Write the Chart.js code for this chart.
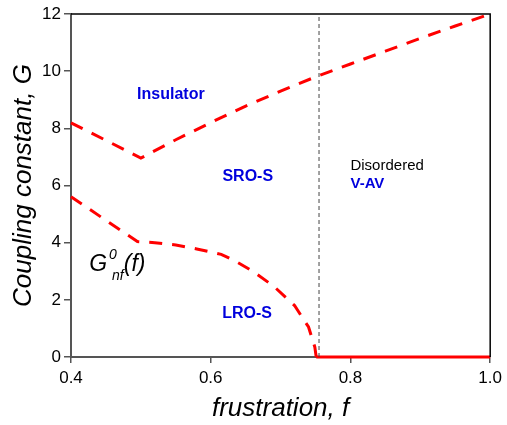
<!DOCTYPE html>
<html>
<head>
<meta charset="utf-8">
<script src="https://cdn.jsdelivr.net/npm/chart.js@4"></script>
<style>
  html, body { margin: 0; padding: 0; background: #fff; }
</style>
</head>
<body>
<canvas id="phaseChart" width="507" height="425"></canvas>
<script>
// upper boundary (insulator / superconductor)
const upperF = [0.4, 0.45, 0.5, 0.55, 0.6, 0.65, 0.7, 0.75, 0.8, 0.85, 0.9, 0.95, 1.0];
const upperG = [8.19, 7.58, 6.96, 7.6, 8.2, 8.78, 9.3, 9.8, 10.25, 10.7, 11.15, 11.58, 12.0];

// lower boundary G0_nf(f)
const lowerF = [0.4, 0.45, 0.495, 0.52, 0.55, 0.58, 0.615, 0.635, 0.66, 0.69, 0.72, 0.74, 0.749, 0.751];
const lowerG = [5.61, 4.78, 4.04, 4.0, 3.92, 3.78, 3.59, 3.36, 3.0, 2.48, 1.8, 1.05, 0.35, 0];

// solid segment on G = 0
const zeroF = [0.751, 1.0];
const zeroG = [0, 0];

// vertical dashed boundary
const boundaryF = [0.755, 0.755];
const boundaryG = [0, 12];

const xTicks = [0.4, 0.6, 0.8, 1.0];
const yTicks = [0, 2, 4, 6, 8, 10, 12];

// region labels: [text, f, G, color, bold, size]
const regionLabels = [
    ["Insulator", 0.543, 9.18, "#0000dd", true, 16, "center"],
    ["SRO-S", 0.653, 6.3, "#0000dd", true, 16, "center"],
    ["Disordered", 0.8, 6.7, "#000000", false, 15, "left"],
    ["V-AV", 0.8, 6.05, "#0000dd", true, 15, "left"],
    ["LRO-S", 0.652, 1.53, "#0000dd", true, 16, "center"]
];

const toPoints = (xs, ys) => xs.map((x, i) => ({ x, y: ys[i] }));

const textPlugin = {
    id: "regionText",
    afterDatasetsDraw(chart) {
        const { ctx, scales: { x, y }, chartArea } = chart;
        ctx.save();
        regionLabels.forEach(([text, f, g, color, bold, size, align]) => {
            ctx.font = `${bold ? "bold " : ""}${size}px "Liberation Sans", Arial, sans-serif`;
            ctx.fillStyle = color;
            ctx.textAlign = align;
            ctx.textBaseline = "middle";
            ctx.fillText(text, x.getPixelForValue(f), y.getPixelForValue(g));
        });

        // G^0_nf(f) label
        const gx = x.getPixelForValue(0.426);
        const gy = y.getPixelForValue(3.0);
        ctx.fillStyle = "#000";
        ctx.textAlign = "left";
        ctx.textBaseline = "alphabetic";
        ctx.font = 'italic 23px "Liberation Sans", Arial, sans-serif';
        ctx.fillText("G", gx, gy);
        const gw = ctx.measureText("G").width;
        ctx.font = 'italic 14px "Liberation Sans", Arial, sans-serif';
        ctx.fillText("0", gx + gw + 2, gy - 12);
        ctx.fillText("nf", gx + gw + 5, gy + 9);
        const nw = ctx.measureText("nf").width;
        ctx.font = 'italic 23px "Liberation Sans", Arial, sans-serif';
        ctx.fillText("(f)", gx + gw + 5 + nw, gy);

        // top and right frame
        ctx.strokeStyle = "#000";
        ctx.lineWidth = 1.5;
        ctx.beginPath();
        ctx.moveTo(chartArea.left, chartArea.top);
        ctx.lineTo(chartArea.right, chartArea.top);
        ctx.lineTo(chartArea.right, chartArea.bottom);
        ctx.stroke();
        ctx.restore();
    }
};

new Chart(document.getElementById("phaseChart"), {
    type: "scatter",
    data: {
        datasets: [
            {
                data: toPoints(boundaryF, boundaryG),
                showLine: true,
                borderColor: "#444",
                borderWidth: 1,
                borderDash: [4, 3],
                pointRadius: 0
            },
            {
                data: toPoints(upperF, upperG),
                showLine: true,
                borderColor: "#ff0000",
                borderWidth: 3,
                borderDash: [13, 10],
                pointRadius: 0,
                clip: false
            },
            {
                data: toPoints(lowerF, lowerG),
                showLine: true,
                borderColor: "#ff0000",
                borderWidth: 3,
                borderDash: [13, 10],
                pointRadius: 0,
                clip: false
            },
            {
                data: toPoints(zeroF, zeroG),
                showLine: true,
                borderColor: "#ff0000",
                borderWidth: 3,
                pointRadius: 0,
                clip: false
            }
        ]
    },
    options: {
        responsive: false,
        animation: false,
        layout: { padding: { top: 14, right: 11, left: 0, bottom: 0 } },
        plugins: { legend: { display: false }, tooltip: { enabled: false } },
        scales: {
            x: {
                type: "linear",
                min: 0.4,
                max: 1.0,
                afterFit: (axis) => { axis.height = 68; },
                afterBuildTicks: (axis) => { axis.ticks = xTicks.map(v => ({ value: v })); },
                ticks: {
                    color: "#000",
                    padding: 5,
                    font: { size: 17, family: '"Liberation Sans", Arial, sans-serif' },
                    callback: (v) => v.toFixed(1)
                },
                grid: { drawOnChartArea: false, color: "#555", tickLength: 6, lineWidth: 1.5 },
                border: { color: "#555", width: 2 },
                title: {
                    display: true,
                    text: "frustration, f",
                    color: "#000",
                    padding: { top: 0, bottom: 1 },
                    font: { size: 26, style: "italic", family: '"Liberation Sans", Arial, sans-serif' }
                }
            },
            y: {
                min: 0,
                max: 12,
                afterFit: (axis) => { axis.width = 71; },
                afterBuildTicks: (axis) => { axis.ticks = yTicks.map(v => ({ value: v })); },
                ticks: {
                    color: "#000",
                    padding: 3,
                    font: { size: 17, family: '"Liberation Sans", Arial, sans-serif' }
                },
                grid: { drawOnChartArea: false, color: "#555", tickLength: 7, lineWidth: 1.5 },
                border: { color: "#555", width: 2 },
                title: {
                    display: true,
                    text: "Coupling constant, G",
                    color: "#000",
                    padding: { top: 8, bottom: 0 },
                    font: { size: 26, style: "italic", family: '"Liberation Sans", Arial, sans-serif' }
                }
            }
        }
    },
    plugins: [textPlugin]
});
</script>
</body>
</html>
